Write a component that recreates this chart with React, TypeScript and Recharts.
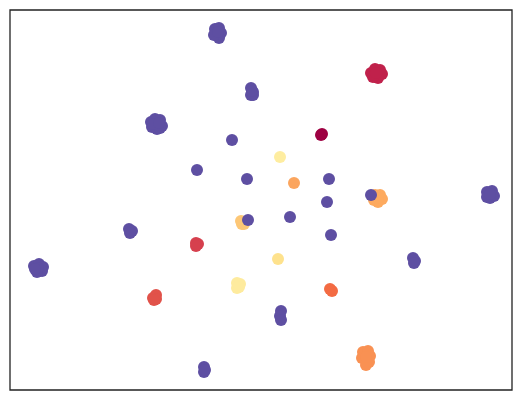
import { ScatterChart, Scatter, XAxis, YAxis, ReferenceArea } from 'recharts';

type Pt = { x: number; y: number };

// groups, grouped by colour (Spectral palette)
const purplePts: Pt[] = [
  { x: 215, y: 29 }, { x: 219, y: 28 }, { x: 221, y: 33 }, { x: 217, y: 34 }, { x: 219, y: 38 }, { x: 214, y: 35 }, { x: 218, y: 32 },
  { x: 251, y: 88 }, { x: 253, y: 92 }, { x: 251, y: 95 }, { x: 253, y: 95 }, { x: 252, y: 91 },
  { x: 151, y: 122 }, { x: 155, y: 119 }, { x: 160, y: 120 }, { x: 162, y: 126 }, { x: 157, y: 129 }, { x: 152, y: 127 }, { x: 156, y: 124 }, { x: 160, y: 128 }, { x: 153, y: 124 }, { x: 159, y: 123 },
  { x: 232, y: 140 }, { x: 197, y: 170 }, { x: 247, y: 179 }, { x: 329, y: 179 }, { x: 327, y: 202 },
  { x: 290, y: 217 }, { x: 331, y: 235 },
  { x: 487, y: 192 }, { x: 492, y: 191 }, { x: 494, y: 196 }, { x: 490, y: 198 }, { x: 487, y: 197 }, { x: 490, y: 194 },
  { x: 129, y: 229 }, { x: 132, y: 231 }, { x: 130, y: 233 },
  { x: 34, y: 266 }, { x: 39, y: 264 }, { x: 43, y: 267 }, { x: 42, y: 271 }, { x: 37, y: 272 }, { x: 38, y: 268 }, { x: 35, y: 269 },
  { x: 413, y: 258 }, { x: 415, y: 261 }, { x: 414, y: 263 },
  { x: 281, y: 311 }, { x: 280, y: 316 }, { x: 281, y: 320 },
  { x: 204, y: 367 }, { x: 204, y: 372 }, { x: 205, y: 370 },
];
const crimsonPts: Pt[] = [
  { x: 371, y: 73 }, { x: 375, y: 69 }, { x: 380, y: 70 }, { x: 382, y: 74 }, { x: 378, y: 78 }, { x: 373, y: 77 }, { x: 376, y: 73 },
];
const darkRedPts: Pt[] = [{ x: 322, y: 134 }, { x: 321, y: 135 }];
const paleYellowPts: Pt[] = [{ x: 280, y: 157 }];
const lightOrangePts: Pt[] = [{ x: 294, y: 183 }];
const orangeBlobPts: Pt[] = [
  { x: 375, y: 195 }, { x: 380, y: 195 }, { x: 382, y: 199 }, { x: 378, y: 202 }, { x: 374, y: 200 }, { x: 378, y: 198 },
];
const yellowOrangePts: Pt[] = [{ x: 241, y: 221 }, { x: 244, y: 224 }, { x: 242, y: 224 }];
const redPts: Pt[] = [{ x: 196, y: 243 }, { x: 198, y: 244 }, { x: 196, y: 246 }];
const yellowPts: Pt[] = [{ x: 278, y: 259 }];
const creamPts: Pt[] = [{ x: 237, y: 283 }, { x: 240, y: 284 }, { x: 237, y: 288 }, { x: 239, y: 287 }];
const orangeRedPts: Pt[] = [{ x: 330, y: 289 }, { x: 332, y: 291 }];
const tomatoPts: Pt[] = [{ x: 153, y: 298 }, { x: 156, y: 295 }, { x: 156, y: 299 }, { x: 154, y: 300 }];
const peachPts: Pt[] = [
  { x: 363, y: 352 }, { x: 368, y: 351 }, { x: 370, y: 356 }, { x: 369, y: 362 }, { x: 366, y: 365 }, { x: 362, y: 358 }, { x: 366, y: 357 },
];
// purple points drawn over the orange blob and the yellow-orange one
const purpleTopPts: Pt[] = [{ x: 371, y: 195 }, { x: 248, y: 220 }];

const series: { name: string; data: Pt[]; color: string }[] = [
  { name: 'purple', data: purplePts, color: '#5e4fa2' },
  { name: 'crimson', data: crimsonPts, color: '#c0214b' },
  { name: 'darkRed', data: darkRedPts, color: '#9e0142' },
  { name: 'paleYellow', data: paleYellowPts, color: '#feeda0' },
  { name: 'lightOrange', data: lightOrangePts, color: '#fba55e' },
  { name: 'orangeBlob', data: orangeBlobPts, color: '#fdaa5f' },
  { name: 'yellowOrange', data: yellowOrangePts, color: '#fdc776' },
  { name: 'red', data: redPts, color: '#d6404e' },
  { name: 'yellow', data: yellowPts, color: '#fee28d' },
  { name: 'cream', data: creamPts, color: '#feeb9e' },
  { name: 'orangeRed', data: orangeRedPts, color: '#f36b43' },
  { name: 'tomato', data: tomatoPts, color: '#e1524a' },
  { name: 'peach', data: peachPts, color: '#f99153' },
  { name: 'purpleTop', data: purpleTopPts, color: '#5e4fa2' },
];

const Dot = (props: any) => {
  const { cx, cy, fill } = props;
  return <circle cx={cx} cy={cy} r={6} fill={fill} />;
};

export default function App() {
  return (
    <div style={{ position: 'fixed', left: 0, top: 0, background: '#fff' }}>
      <ScatterChart width={531} height={401} margin={{ top: 10, right: 19, bottom: 11, left: 10 }}>
        <XAxis type="number" dataKey="x" domain={[10, 512]} hide allowDataOverflow />
        <YAxis type="number" dataKey="y" domain={[10, 390]} reversed hide allowDataOverflow />
        <ReferenceArea x1={10} x2={512} y1={10} y2={390} fill="none" fillOpacity={0} stroke="#222" strokeWidth={1.3} />
        {series.map((s) => (
          <Scatter key={s.name} name={s.name} data={s.data} fill={s.color} shape={<Dot />} isAnimationActive={false} />
        ))}
      </ScatterChart>
    </div>
  );
}
